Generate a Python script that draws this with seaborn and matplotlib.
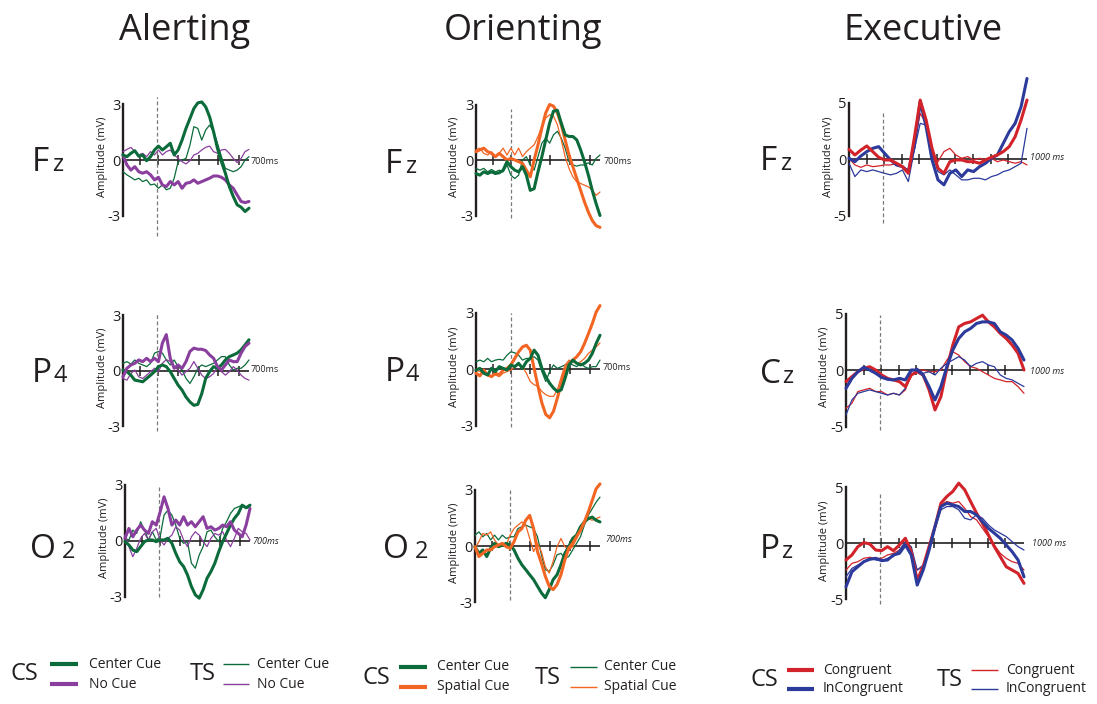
import numpy as np
import matplotlib
matplotlib.use("Agg")
import matplotlib.pyplot as plt
import seaborn as sns

sns.set_theme(style="white")
plt.rcParams['font.family'] = ['Open Sans', 'DejaVu Sans']

# ---------------- data ----------------
t_ao = np.arange(-100, 701, 25)      # sample times (ms) alerting / orienting
t_ex = np.arange(-200, 1001, 40)     # sample times (ms) executive

alert_fz_cs_center = [0.27,0.18,0.36,0.5,0.2,0.27,-0.04,0.18,0.54,0.75,0.54,0.71,0.9,0.27,0.54,1.07,1.7,2.23,2.77,3.07,3.12,2.86,2.32,1.52,0.62,-0.09,-0.71,-1.43,-1.96,-2.41,-2.54,-2.77,-2.59]
alert_fz_ts_center = [-0.63,-0.8,-0.93,-1.07,-0.98,-1.16,-1.07,-1.34,-1.29,-1.52,-1.34,-1.6,-1.52,-0.98,-0.09,0,0.09,0.8,1.79,1.7,1.07,1.61,1.88,1.52,0.89,0.18,-0.45,-0.54,-0.63,-0.54,-0.36,0,0.18]
alert_fz_cs_nocue = [0.27,-0.27,-0.54,-0.36,-0.63,-0.71,-0.63,-0.8,-1.07,-0.93,-1.34,-1.43,-1.16,-1.34,-1.16,-1.52,-1.25,-1.21,-1.07,-1.25,-1.16,-1.07,-0.98,-0.86,-0.86,-0.93,-1.07,-1.34,-1.52,-1.88,-2.23,-2.29,-2.23]
alert_fz_ts_nocue = [0.45,0.57,0.68,0.45,0.27,0.36,0.18,0.45,0.27,0.54,0.27,0.45,0.54,0.27,0.09,-0.09,-0.21,-0.04,0.27,0.36,0.54,0.68,0.75,0.45,0.36,0.54,0.57,0.36,0.09,-0.14,0.09,0.45,0.57]

alert_p4_cs_center = [0.04,-0.05,-0.24,-0.51,-0.55,-0.6,-0.42,-0.24,-0.05,0.22,0.31,0.22,-0.05,-0.42,-0.78,-1.05,-1.42,-1.69,-1.87,-1.82,-1.24,-0.42,-0.05,0.22,0.13,0.31,0.58,0.76,0.85,0.95,1.13,1.4,1.67]
alert_p4_ts_center = [0.4,0.49,0.36,0.58,0.4,0.31,0.22,0.4,0.95,1.04,0.95,0.58,0.31,0.58,0.22,0.04,-0.42,-0.69,-0.33,0.13,0.31,0.22,0.31,0.4,0.58,0.76,0.76,0.31,0.04,0.13,0.13,0.31,0.58]
alert_p4_cs_nocue = [-0.33,0.13,0.31,0.4,0.58,0.49,0.67,0.49,0.67,0.49,1.49,1.95,0.67,0.13,0.31,0.13,0.49,1.04,1.22,1.16,1.16,1.09,0.85,0.67,0.22,0.04,0.31,0.58,0.49,0.49,0.95,1.31,1.49]
alert_p4_ts_nocue = [-0.42,-0.51,-0.15,0.04,-0.33,-0.42,-0.24,-0.05,0.13,-0.05,0.4,0.6,0.5,0.22,0.04,-0.24,-0.05,0.13,0.49,0.13,-0.24,-0.42,-0.33,-0.15,0.22,-0.05,-0.24,-0.05,0.22,0.04,-0.24,-0.42,-0.51]

alert_o2_cs_center = [-0.05,-0.23,-0.5,-0.59,-0.32,-0.05,0.04,0.04,-0.05,0.04,0.04,0.13,-0.14,-0.68,-1.13,-1.39,-1.84,-2.46,-2.91,-3.09,-2.64,-2.02,-1.66,-1.21,-0.59,-0.05,0.39,0.84,1.2,1.46,1.91,1.77,1.91]
alert_o2_ts_center = [0.13,0.04,0.57,0.39,1.02,0.57,0.04,0.48,0.04,0.21,1.38,1.64,1.38,0.84,0.13,-0.14,-0.05,-1.21,-1.48,-0.77,-0.32,0.48,0.57,0.21,-0.05,0.66,1.02,1.46,1.73,1.82,1.91,1.73,1.82]
alert_o2_cs_nocue = [0.13,0.66,0.21,0.57,0.84,0.57,0.39,1.02,0.84,1.55,2.36,1.73,0.84,1.11,0.84,1.29,0.84,1.02,0.75,1.02,1.29,0.66,0.75,0.57,0.66,0.84,0.75,1.02,0.57,0.39,0.21,0.84,1.73]
alert_o2_ts_nocue = [0.3,-0.32,-0.86,-0.41,0.13,0.39,0.04,0.48,0.66,0.04,-0.23,0.13,0.3,0.75,0.57,0.04,-0.32,0.21,0.48,0.3,-0.05,-0.32,0.13,0.39,0.3,0.48,0.04,-0.32,0.13,0.66,0.48,0.39,0.04]

orient_fz_cs_center = [-0.73,-0.82,-0.64,-0.73,-0.64,-0.73,-0.69,-0.55,-0.09,-0.36,-0.55,-0.64,-0.36,-0.82,-1.64,-1.55,-0.64,0.18,1.09,2.0,2.64,2.69,2.0,1.36,1.27,1.27,1.09,0.55,-0.09,-0.82,-1.64,-2.36,-3.0]
orient_fz_ts_center = [-0.45,-0.55,-0.45,-0.64,-0.51,-0.64,-0.55,-0.64,-0.27,-0.82,-1.0,-0.82,0,0.18,-0.27,-0.55,0.18,0.91,1.18,0.91,1.36,1.55,1.18,0.64,-0.09,-0.27,-0.33,-0.27,-0.27,-0.15,-0.27,0.09,0.27]
orient_fz_cs_spatial = [0.45,0.55,0.64,0.45,0.36,0.18,0.36,0.18,0,0.09,0,-0.09,-0.18,-0.55,-0.91,0,0.82,1.73,2.55,3.0,2.91,2.55,1.91,1.09,0.27,-0.36,-1.0,-1.64,-2.27,-2.82,-3.27,-3.55,-3.64]
orient_fz_ts_spatial = [0.55,0.64,0.36,0.27,0.45,0.18,0.36,0.64,0.27,0.64,0.27,0.64,0.18,0.45,0.64,0.82,1.27,1.82,2.27,2.45,2.36,1.91,1.09,0.18,-0.45,-0.91,-1.18,-1.27,-1.36,-1.45,-1.64,-1.91,-1.73]

orient_p4_cs_center = [-0.04,0.05,-0.21,-0.3,0.05,-0.12,0.14,0.05,-0.04,0.23,0.14,0.32,0.05,0.4,0.58,1.02,0.75,0.05,-0.39,-0.74,-1.0,-1.18,-1.09,-0.47,0.23,0.49,0.32,0.23,0.32,0.49,0.84,1.37,1.81]
orient_p4_ts_center = [0.4,0.49,0.4,0.58,0.4,0.49,0.53,0.49,0.75,0.93,0.88,0.75,0.49,0.58,0.58,0.67,0.49,-0.12,-0.65,-0.12,0.23,0.05,0.14,0.23,0.32,0.23,0.14,0.32,0.14,0.05,0.14,0.14,0.49]
orient_p4_cs_spatial = [-0.21,-0.35,-0.04,-0.3,-0.39,-0.21,-0.3,-0.04,0.05,0.23,0.58,0.93,1.19,1.28,1.02,0.05,-0.91,-1.79,-2.4,-2.58,-2.23,-1.53,-0.74,-0.04,0.32,0.49,0.67,0.93,1.37,1.89,2.42,3.04,3.39]
orient_p4_ts_spatial = [-0.04,-0.12,-0.04,-0.3,-0.39,-0.3,-0.39,-0.21,-0.12,-0.04,0.14,0.23,0.14,-0.21,-0.65,-0.82,-0.91,-1.18,-1.35,-1.44,-1.44,-1.09,-0.39,0.23,0.49,0.4,0.32,0.4,0.58,0.84,1.02,1.19,1.4]

orient_o2_cs_center = [-0.04,-0.39,-0.21,-0.56,-0.12,0.14,-0.04,0.05,0.14,0.05,-0.21,-0.65,-1.0,-1.26,-1.53,-1.79,-2.14,-2.49,-2.75,-2.32,-1.79,-1.53,-1.0,-0.39,-0.04,0.4,0.58,1.02,1.28,1.46,1.54,1.37,1.28]
orient_o2_ts_center = [0.58,0.75,0.49,0.67,0.32,0.58,0.32,0.58,0.4,0.49,0.49,0.93,1.02,1.11,1.02,0.93,0.49,-0.47,-1.26,-1.35,-1.0,-0.47,-0.39,-0.65,-0.56,-0.21,0.14,0.49,1.11,1.63,1.98,2.33,2.6]
orient_o2_cs_spatial = [-0.04,-0.56,-0.39,-0.21,-0.21,-0.04,0.05,0.14,-0.04,-0.12,0.23,0.75,0.93,1.37,1.63,0.93,-0.3,-0.91,-1.61,-2.14,-2.32,-2.05,-1.53,-0.74,-0.12,0.14,0.49,0.84,1.28,1.81,2.42,3.04,3.3]
orient_o2_ts_spatial = [-0.12,0.23,0.67,0.58,0.75,0.32,0.05,0.14,0.05,0.58,0.93,1.11,1.28,1.11,0.4,-0.3,0.14,-0.3,-1.09,-1.44,-0.82,-0.04,0.4,-0.04,-0.21,-0.04,0.4,0.84,1.19,1.46,1.37,1.46,1.54]

exec_fz_cs_cong = [0.88,0.38,0.82,1.18,0.68,0.18,-0.06,-0.06,-0.35,-0.65,-1.24,1.85,5.24,3.47,0.97,-0.79,-1.24,-0.21,-0.06,-0.06,-0.21,-0.21,-0.35,-0.06,0.18,0.38,0.68,1.12,2.0,3.47,5.24]
exec_fz_cs_incong = [0.09,-0.21,0.29,0.68,0.97,1.12,0.53,-0.06,-0.5,-0.65,-1.09,1.12,5.09,2.88,-0.06,-1.82,-2.26,-1.24,-0.94,-1.53,-0.94,-1.09,-0.65,-0.35,0.09,0.38,1.41,2.44,3.18,4.65,7.15]
exec_fz_ts_cong = [0.09,-0.5,-0.71,-0.5,-0.65,-0.59,-0.5,-0.5,-0.35,-0.65,-0.94,1.41,4.06,3.18,0.68,-0.21,0.68,0.97,0.38,0.09,0.24,-0.06,0.09,-0.06,0.09,-0.21,-0.06,-0.21,-0.35,-0.21,-0.5]
exec_fz_ts_incong = [-0.35,-1.53,-0.94,-1.09,-0.94,-1.09,-1.24,-1.38,-1.24,-0.94,-1.97,0.82,3.18,3.03,0.53,-1.09,-1.38,-0.94,-1.38,-1.82,-1.82,-1.68,-1.68,-1.82,-1.53,-1.38,-1.09,-0.94,-0.65,-0.35,2.74]

exec_cz_cs_cong = [-1.03,-0.59,-0.15,0.15,0.29,0,-0.44,-0.74,-0.88,-1.03,-1.47,-0.44,-0.15,-0.44,-1.76,-3.53,-2.35,0.15,2.21,3.82,4.12,4.26,4.56,4.85,4.26,3.82,3.24,2.79,2.21,1.47,0]
exec_cz_cs_incong = [-1.62,-0.74,-0.15,0.24,0,-0.29,-0.65,-0.82,-0.88,-0.74,-0.88,0,0,-0.44,-1.47,-2.65,-1.47,0.29,1.76,2.79,3.38,3.68,4.12,4.26,4.26,4.12,3.38,3.09,2.65,1.91,0.88]
exec_cz_ts_cong = [-3.38,-2.94,-1.91,-1.76,-1.62,-1.91,-1.91,-2.21,-2.06,-2.21,-1.76,-0.44,0,0,-0.15,-0.15,0,0.88,1.62,1.32,0.74,0.29,0.15,-0.15,-0.44,-0.74,-0.88,-1.03,-1.03,-1.47,-2.06]
exec_cz_ts_incong = [-3.97,-2.65,-2.06,-1.91,-1.76,-1.91,-2.06,-2.21,-2.06,-2.21,-1.62,-0.15,0.15,-0.29,-0.15,-0.44,0.15,0.59,0.88,1.18,0.88,0.29,0.59,0.74,0.44,0.29,-0.44,-0.74,-0.88,-1.18,-1.47]

exec_pz_cs_cong = [-1.49,-1.04,-0.3,0.06,-0.06,-0.6,-0.66,-0.3,-0.66,-0.15,0.45,-0.75,-3.28,-2.09,-0.3,1.49,3.58,4.18,4.63,5.37,4.78,3.73,2.69,1.79,0.75,-0.3,-1.19,-2.09,-2.39,-2.69,-3.58]
exec_pz_cs_incong = [-3.88,-2.54,-2.09,-1.64,-1.43,-1.34,-1.55,-1.49,-1.04,-0.9,-0.15,-1.04,-3.73,-2.39,-0.6,1.49,3.28,3.58,3.43,3.28,2.84,2.84,2.54,1.94,1.34,0.9,0.45,-0.15,-0.75,-1.49,-2.99]
exec_pz_ts_cong = [-2.39,-1.79,-1.64,-1.34,-1.25,-1.34,-1.34,-1.04,-0.9,-0.6,0,-0.9,-2.39,-2.09,-0.45,1.49,3.43,3.73,3.58,3.73,3.13,2.39,2.09,1.34,0.6,-0.15,-0.9,-1.34,-1.64,-1.79,-2.39]
exec_pz_ts_incong = [-2.99,-2.24,-1.94,-1.64,-1.34,-1.49,-1.55,-1.34,-1.19,-0.6,0.15,-0.3,-2.39,-1.94,-0.3,1.34,2.99,3.28,3.28,2.99,2.24,2.09,2.54,2.24,1.64,1.19,0.9,0.6,0.15,-0.3,-0.6]

titles = ["Alerting", "Orienting", "Executive"]
legend_labels = [("Center Cue", "No Cue"), ("Center Cue", "Spatial Cue"), ("Congruent", "InCongruent")]
ticks_ao = [10, 125, 250, 380, 505, 635]
ticks_ex = [-80, 35, 155, 275, 395, 515, 635, 755, 875]

# ---------------- style ----------------
GREEN = "#0b6b3a"
PURPLE = "#8a3f9e"
ORANGE = "#f26522"
RED = "#d2232a"
BLUE = "#2b3a9b"
INK = "#231f20"
THICK, THIN = 2.2, 0.9

W, H = 1097, 704
fig = plt.figure(figsize=(W / 100, H / 100), dpi=100)
ov = fig.add_axes([0, 0, 1, 1])
ov.set_xlim(0, W)
ov.set_ylim(H, 0)
ov.axis("off")


def panel(spine, end, zero, ppu, t, series, lim, ticks, dash, dash_ext,
          ms, ms_xy, ms_italic, ch, ch_x, ch_base):
    ext = lim * 2.2
    ax = fig.add_axes([spine / W, 1 - (zero + ext * ppu) / H,
                       (end - spine) / W, 2 * ext * ppu / H])
    ax.set_facecolor("none")
    ax.set_xlim(t[0], t[-1])
    ax.set_ylim(-ext, ext)
    for s in ["top", "right", "bottom"]:
        ax.spines[s].set_visible(False)
    ax.spines["left"].set_bounds(-lim, lim)
    ax.spines["left"].set_linewidth(1.7)
    ax.spines["left"].set_color(INK)
    ax.set_xticks([])
    ax.set_yticks([-lim, 0, lim])
    ax.set_yticklabels([f"-{lim}", "0", f"{lim}"])
    ax.tick_params(axis="y", length=0, pad=2, labelsize=10.5, labelcolor=INK)
    ax.axhline(0, color=INK, lw=1.2, zorder=1)
    th = 5.0 / ppu
    ax.vlines(ticks, -th, th, colors=INK, lw=1.1, zorder=1)
    ax.vlines([dash], dash_ext[1], dash_ext[0], colors="#7a7a7a",
              linestyles=(0, (3, 2)), lw=0.9, zorder=1)
    for vals, col, lw in series:
        sns.lineplot(x=t, y=vals, ax=ax, color=col, linewidth=lw,
                     estimator=None, legend=False, clip_on=False, zorder=3)
    ax.set_xlabel("")
    ax.set_ylabel("")
    # texts
    ov.text(ms_xy[0], ms_xy[1], ms, fontsize=6.5, ha="left", va="center",
            color=INK, style="italic" if ms_italic else "normal")
    ov.text(spine - 21, zero - 3, "Amplitude (mV)", rotation=90, fontsize=8,
            ha="center", va="center", color=INK)
    ov.text(ch_x[0], ch_base, ch[0], fontsize=24, ha="left", va="baseline", color=INK)
    ov.text(ch_x[1], ch_base, ch[1], fontsize=17, ha="left", va="baseline", color=INK)


# Alerting column
panel(123, 249, 160, 18.6, t_ao,
      [(alert_fz_ts_center, GREEN, THIN), (alert_fz_ts_nocue, PURPLE, THIN),
       (alert_fz_cs_nocue, PURPLE, THICK), (alert_fz_cs_center, GREEN, THICK)],
      3, ticks_ao, 115, (3.4, -4.1), "700ms", (251, 161), False, ("F", "z"), (32, 52), 171)
panel(123, 249, 370.7, 18.5, t_ao,
      [(alert_p4_ts_center, GREEN, THIN), (alert_p4_ts_nocue, PURPLE, THIN),
       (alert_p4_cs_center, GREEN, THICK), (alert_p4_cs_nocue, PURPLE, THICK)],
      3, ticks_ao, 115, (3.05, -3.25), "700ms", (251, 369), False, ("P", "4"), (32, 53), 382)
panel(125, 250, 540.7, 18.6, t_ao,
      [(alert_o2_ts_center, GREEN, THIN), (alert_o2_ts_nocue, PURPLE, THIN),
       (alert_o2_cs_center, GREEN, THICK), (alert_o2_cs_nocue, PURPLE, THICK)],
      3, ticks_ao, 115, (3.0, -3.0), "700ms", (252, 541), True, ("O", "2"), (30, 62), 558)

# Orienting column
panel(476, 600, 160, 18.5, t_ao,
      [(orient_fz_ts_center, GREEN, THIN), (orient_fz_ts_spatial, ORANGE, THIN),
       (orient_fz_cs_spatial, ORANGE, THICK), (orient_fz_cs_center, GREEN, THICK)],
      3, ticks_ao, 123, (2.75, -3.15), "700ms", (604, 161), False, ("F", "z"), (385, 405), 173)
panel(476, 600, 369.3, 18.8, t_ao,
      [(orient_p4_ts_center, GREEN, THIN), (orient_p4_ts_spatial, ORANGE, THIN),
       (orient_p4_cs_spatial, ORANGE, THICK), (orient_p4_cs_center, GREEN, THICK)],
      3, ticks_ao, 123, (3.0, -3.05), "700ms", (603, 368), False, ("P", "4"), (385, 406), 381)
panel(475, 600, 546, 18.8, t_ao,
      [(orient_o2_ts_center, GREEN, THIN), (orient_o2_ts_spatial, ORANGE, THIN),
       (orient_o2_cs_center, GREEN, THICK), (orient_o2_cs_spatial, ORANGE, THICK)],
      3, ticks_ao, 123, (3.1, -2.85), "700ms", (605, 540), True, ("O", "2"), (383, 415), 558)

# Executive column
panel(849, 1027, 159.3, 11.3, t_ex,
      [(exec_fz_ts_cong, RED, THIN), (exec_fz_ts_incong, BLUE, THIN),
       (exec_fz_cs_incong, BLUE, THICK), (exec_fz_cs_cong, RED, THICK)],
      5, ticks_ex, 30, (4.2, -5.6), "1000 ms", (1030, 158), True, ("F", "z"), (760, 780), 170)
panel(846, 1024, 370, 11.3, t_ex,
      [(exec_cz_ts_cong, RED, THIN), (exec_cz_ts_incong, BLUE, THIN),
       (exec_cz_cs_cong, RED, THICK), (exec_cz_cs_incong, BLUE, THICK)],
      5, ticks_ex, 30, (4.85, -5.3), "1000 ms", (1030, 371), True, ("C", "z"), (760, 782), 383)
panel(846, 1024, 543.3, 11.2, t_ex,
      [(exec_pz_ts_cong, RED, THIN), (exec_pz_ts_incong, BLUE, THIN),
       (exec_pz_cs_cong, RED, THICK), (exec_pz_cs_incong, BLUE, THICK)],
      5, ticks_ex, 30, (4.6, -5.4), "1000 ms", (1032, 543), True, ("P", "z"), (760, 781), 558)

# titles
for title, cx in zip(titles, [185, 523, 923]):
    ov.text(cx, 40, title, fontsize=26, ha="center", va="baseline", color=INK)

# legends
leg_specs = [
    # CS x, CS/TS y, thick x0,x1, label x, TS x, thin x0,x1, label x, y1, y2, colors
    dict(cs=11, ts=190, cy=674, l1=(50, 78), lx1=89, l2=(223, 249), lx2=257, y=(664, 684), c=(GREEN, PURPLE)),
    dict(cs=362, ts=535, cy=678, l1=(399, 427), lx1=437, l2=(570, 597), lx2=604, y=(667, 687), c=(GREEN, ORANGE)),
    dict(cs=750, ts=937, cy=680, l1=(787, 814), lx1=823, l2=(971, 998), lx2=1006, y=(670, 689), c=(RED, BLUE)),
]
for spec, labels in zip(leg_specs, legend_labels):
    ov.text(spec["cs"], spec["cy"], "CS", fontsize=17, ha="left", va="center", color=INK)
    ov.text(spec["ts"], spec["cy"], "TS", fontsize=17, ha="left", va="center", color=INK)
    for yy, col, lab in zip(spec["y"], spec["c"], labels):
        ov.plot(spec["l1"], [yy, yy], color=col, lw=3.0, solid_capstyle="butt")
        ov.plot(spec["l2"], [yy, yy], color=col, lw=1.0, solid_capstyle="butt")
        ov.text(spec["lx1"], yy, lab, fontsize=10, ha="left", va="center", color=INK)
        ov.text(spec["lx2"], yy, lab, fontsize=10, ha="left", va="center", color=INK)

fig.savefig("out.png", dpi=100)
